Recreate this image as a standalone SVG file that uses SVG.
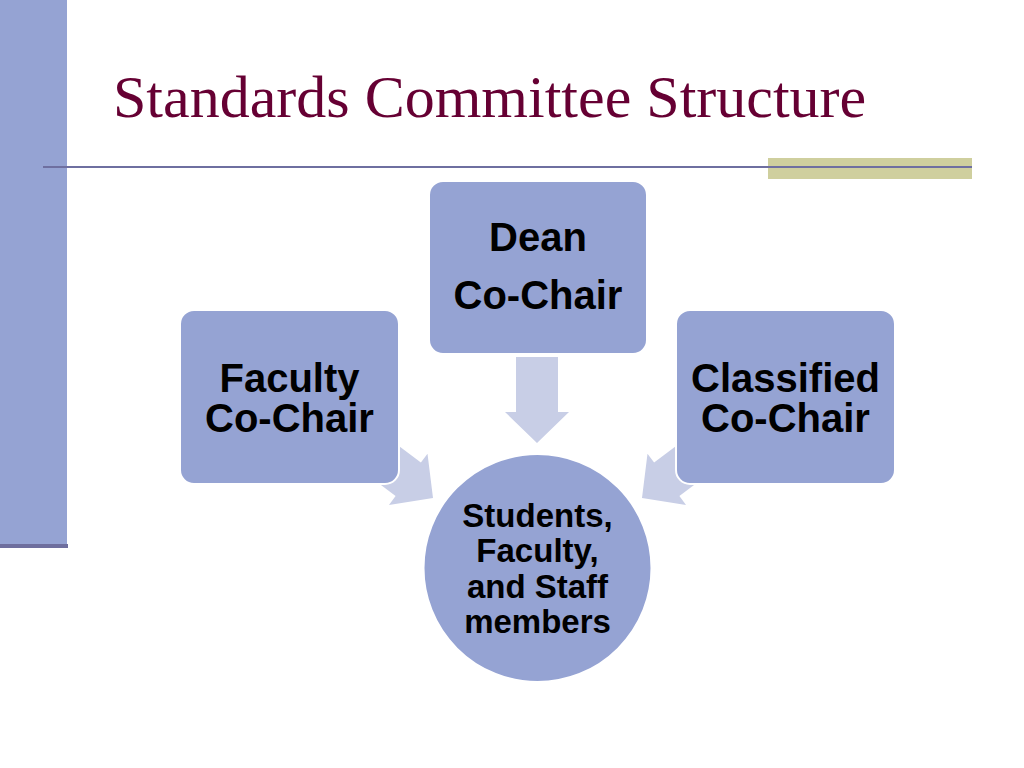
<svg xmlns="http://www.w3.org/2000/svg" width="1024" height="768" viewBox="0 0 1024 768">
  <style>
    .node { fill: #95A3D3; stroke: #FFFFFF; stroke-width: 2; }
    .arrow { fill: #C8CEE6; }
    .lbl { font-family: "Liberation Sans", Arial, sans-serif; font-weight: bold; fill: #000000; text-anchor: middle; }
    .big { font-size: 40px; }
    .small { font-size: 33px; }
    .title { font-family: "Liberation Serif", "Times New Roman", serif; font-size: 60px; fill: #660033; }
  </style>
  <defs>
    <path id="arr" d="M -86 -21 L -31 -21 L -31 -32 L 0 0 L -31 32 L -31 21 L -86 21 Z"/>
  </defs>
  <rect x="0" y="0" width="1024" height="768" fill="#FFFFFF"/>
  <g id="decor">
    <rect x="0" y="0" width="67" height="545" fill="#95A3D3"/>
    <rect x="0" y="544" width="68" height="4" fill="#6E6E9E"/>
    <rect x="768" y="158" width="204" height="21" fill="#CFCF9E"/>
    <line x1="43" y1="167" x2="972" y2="167" stroke="#6E6FA0" stroke-width="2"/>
  </g>
  <text id="title" class="title" x="113" y="117">Standards Committee Structure</text>
  <g id="connectors">
    <use href="#arr" class="arrow" transform="translate(537,443) rotate(90)"/>
    <use href="#arr" class="arrow" transform="translate(433,498) rotate(37)"/>
    <use href="#arr" class="arrow" transform="translate(642,498) rotate(143)"/>
  </g>
  <g id="dean">
    <rect class="node" x="429" y="181" width="218" height="173" rx="14"/>
    <text class="lbl big" x="538" y="251">Dean</text>
    <text class="lbl big" x="538" y="309">Co-Chair</text>
  </g>
  <g id="faculty">
    <rect class="node" x="180" y="310" width="219" height="174" rx="14"/>
    <text class="lbl big" x="289.5" y="392">Faculty</text>
    <text class="lbl big" x="289.5" y="432">Co-Chair</text>
  </g>
  <g id="classified">
    <rect class="node" x="676" y="310" width="219" height="174" rx="14"/>
    <text class="lbl big" x="785.5" y="392">Classified</text>
    <text class="lbl big" x="785.5" y="432">Co-Chair</text>
  </g>
  <g id="members">
    <circle class="node" cx="537.5" cy="568" r="114"/>
    <text class="lbl small" x="537.5" y="527">Students,</text>
    <text class="lbl small" x="537.5" y="562">Faculty,</text>
    <text class="lbl small" x="537.5" y="598">and Staff</text>
    <text class="lbl small" x="537.5" y="633">members</text>
  </g>
</svg>
